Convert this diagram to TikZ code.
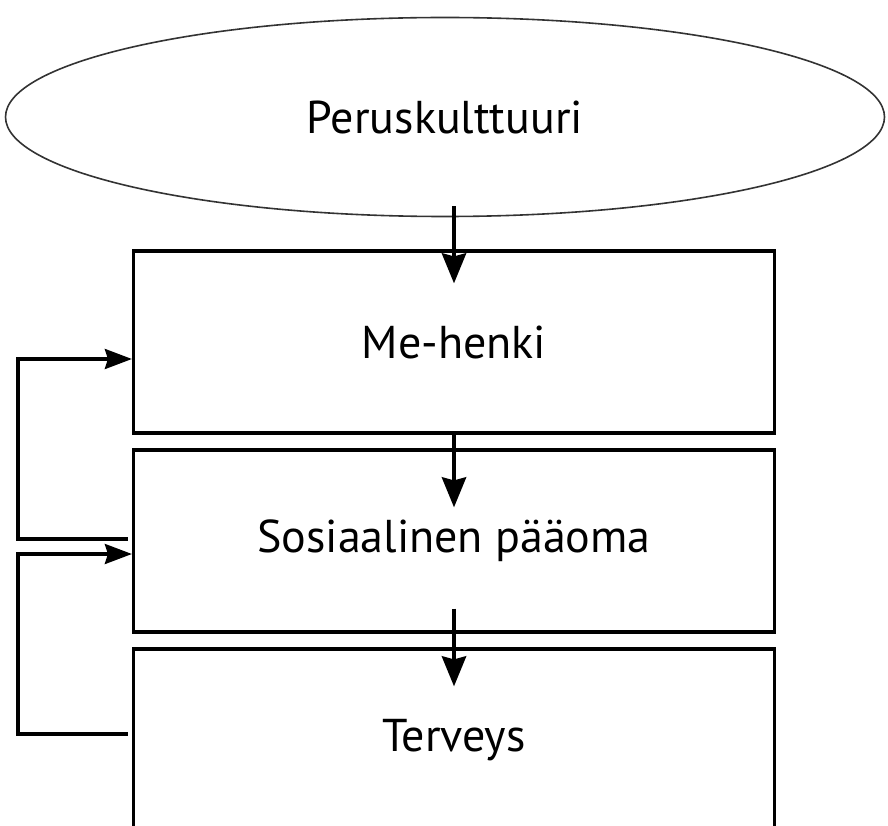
\documentclass[tikz,border=0pt]{standalone}
\usepackage{fontspec}
\setmainfont{PT Sans}
\usepackage{tikz}
\usetikzlibrary{shapes.geometric,arrows.meta}
\tikzstyle{culture} = [ellipse, minimum width=879pt, minimum height=199pt, inner sep=0pt, text centered, draw=black!80, line width=1.6pt, font=\fontsize{46}{55}\selectfont]
\tikzstyle{level} = [rectangle, minimum width=641pt, minimum height=182pt, inner sep=0pt, text centered, draw=black, line width=3.2pt, font=\fontsize{46}{55}\selectfont]
\tikzstyle{arrow} = [line width=4.4pt,-{Stealth[length=30pt,width=24pt,inset=3pt]}]
\tikzstyle{feedback} = [line width=3.2pt,-{Stealth[length=27pt,width=20pt,inset=3pt]}]

\begin{document}
\begin{tikzpicture}[x=1pt,y=1pt,node distance=199pt]
\useasboundingbox (0,0) rectangle (888,-826);
\node (culture) [culture] at (445,-117) {Peruskulttuuri};
\node (spirit) [level] at (454,-342) {Me-henki};
\node (capital) [level, below of=spirit] {Sosiaalinen pääoma};
\node (health) [level, below of=capital] {Terveys};

\draw [arrow] ([yshift=11pt]spirit.north |- culture.south) -- ([yshift=-34pt]spirit.north);
\draw [arrow] (spirit.south) -- ([yshift=-59pt]capital.north);
\draw [arrow] ([yshift=25pt]capital.south) -- ([yshift=-39pt]health.north);

\draw [feedback] ([xshift=-4pt,yshift=2pt]capital.west) -- ++(-110,0) |- ([yshift=-17pt]spirit.west);
\draw [feedback] ([xshift=-4pt,yshift=6pt]health.west) -- ++(-110,0) |- ([yshift=-13pt]capital.west);
\end{tikzpicture}
\end{document}
